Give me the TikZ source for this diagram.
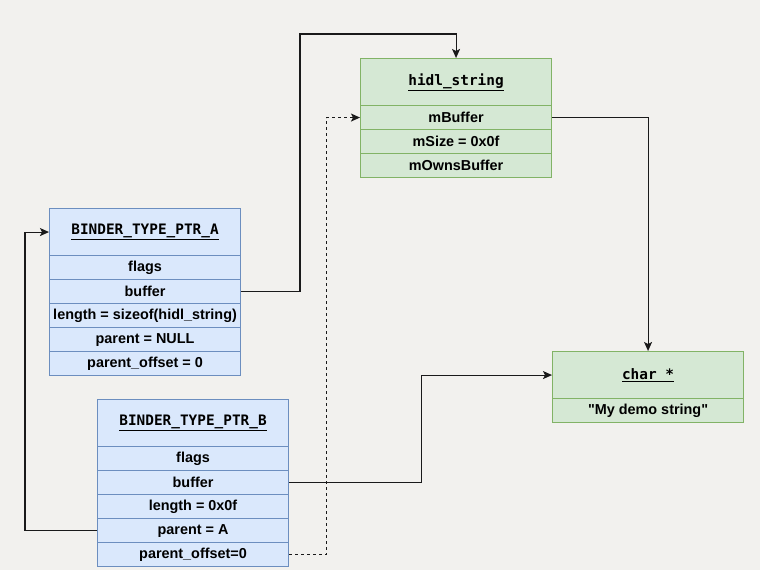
\documentclass[tikz,border=0pt]{standalone}
\usepackage{fontspec}
\setmainfont{Liberation Sans}
\setmonofont{DejaVu Sans Mono}
% same face without the TeX mapping, so that " stays a straight quote
\newfontfamily\rawsans{Liberation Sans}
\usetikzlibrary{arrows.meta}
\definecolor{bgcol}{HTML}{F2F1EE}
\definecolor{bluefill}{HTML}{DAE8FC}
\definecolor{bluedraw}{HTML}{6C8EBF}
\definecolor{greenfill}{HTML}{D5E8D4}
\definecolor{greendraw}{HTML}{82B366}
\definecolor{linecol}{HTML}{1A1A1A}
\tikzset{
  field/.style={draw, line width=1.1pt, minimum width=191pt, minimum height=24pt,
    anchor=north west, inner sep=0pt, font=\fontsize{14.4}{16}\selectfont\bfseries},
  head/.style={field, minimum height=47pt, font=\fontsize{14.4}{16}\selectfont\ttfamily\bfseries},
  bluebox/.style={fill=bluefill, draw=bluedraw},
  greenbox/.style={fill=greenfill, draw=greendraw},
  conn/.style={draw=linecol, line width=1.1pt, -{Stealth[length=9pt,width=8pt,inset=2pt]}},
}
\newcommand{\hdr}[1]{\underline{#1}}
\begin{document}
\begin{tikzpicture}[x=1pt,y=-1pt]
\fill[bgcol] (0,0) rectangle (760,570);
\useasboundingbox (0,0) rectangle (760,570);

% hidl_string structure
\node[head,greenbox] (hidlH) at (360,58) {\hdr{hidl\_string}};
\node[field,greenbox] (hidlBuf) at (360,105) {mBuffer};
\node[field,greenbox] (hidlSize) at (360,129) {mSize = 0x0f};
\node[field,greenbox] (hidlOwn) at (360,153) {mOwnsBuffer};

% first buffer object
\node[head,bluebox] (aH) at (49,208) {\hdr{BINDER\_TYPE\_PTR\_A}};
\node[field,bluebox] (aFlags) at (49,255) {flags};
\node[field,bluebox] (aBuf) at (49,279) {buffer};
\node[field,bluebox] (aLen) at (49,303) {length = sizeof(hidl\_string)};
\node[field,bluebox] (aPar) at (49,327) {parent = NULL};
\node[field,bluebox] (aOff) at (49,351) {parent\_offset = 0};

% second buffer object
\node[head,bluebox] (bH) at (97,399) {\hdr{BINDER\_TYPE\_PTR\_B}};
\node[field,bluebox] (bFlags) at (97,446) {flags};
\node[field,bluebox] (bBuf) at (97,470) {buffer};
\node[field,bluebox] (bLen) at (97,494) {length = 0x0f};
\node[field,bluebox] (bPar) at (97,518) {parent = A};
\node[field,bluebox] (bOff) at (97,542) {parent\_offset=0};

% string data
\node[head,greenbox] (charH) at (552,351) {\hdr{char *}};
\node[field,greenbox] (charStr) at (552,398) {\rawsans\bfseries "My demo string"};

% pointers
\draw[conn] (aBuf.east) -| (300,34) -| (hidlH.north);
\draw[conn,dashed] (bOff.east) -- ++(37,0) |- (hidlBuf.west);
\draw[conn] (hidlBuf.east) -| (charH.north);
\draw[conn] (bBuf.east) -- ++(132,0) |- (charH.west);
\draw[conn] (bPar.west) -- ++(-72,0) |- (aH.west);
\end{tikzpicture}
\end{document}
